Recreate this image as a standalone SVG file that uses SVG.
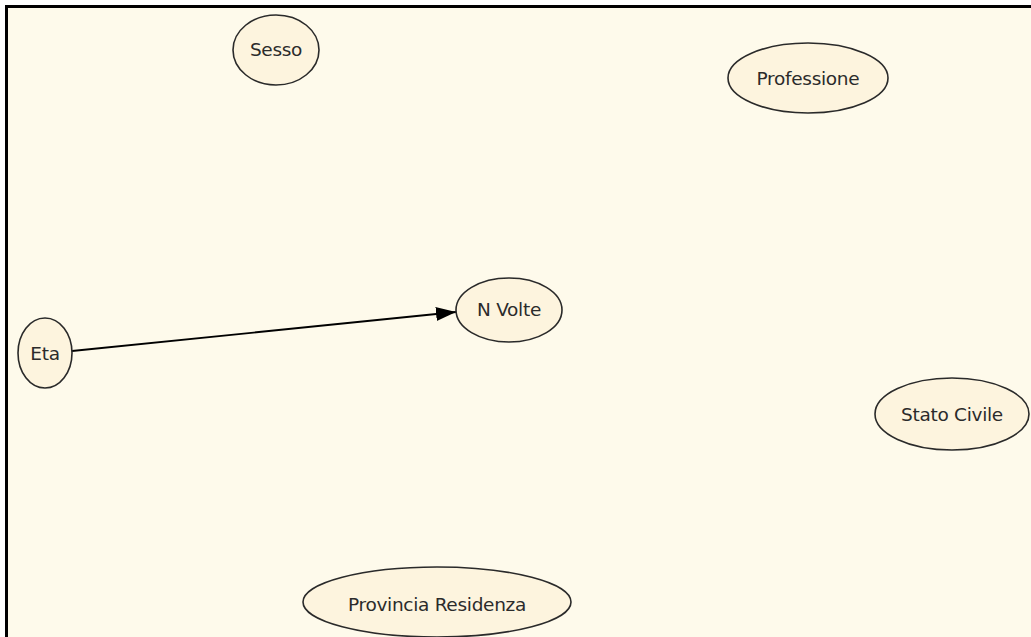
<svg xmlns="http://www.w3.org/2000/svg" width="1031" height="637" viewBox="0 0 1031 637">
  <defs>
    <style>
      .node ellipse { fill: #fdf4de; stroke: #2a2a2a; stroke-width: 1.6; }
      .node text { font-family: "DejaVu Sans", Verdana, sans-serif; font-size: 18.5px; fill: #2b2b2b; text-anchor: middle; dominant-baseline: central; letter-spacing: -0.3px; }
      .edge { stroke: #000; stroke-width: 1.8; fill: none; }
    </style>
    <marker id="arrowBig" viewBox="0 0 20 14" refX="20" refY="7" markerWidth="20" markerHeight="14" markerUnits="userSpaceOnUse" orient="auto">
      <path d="M0,0 L20,7 L0,14 z" fill="#000"/>
    </marker>
  </defs>
  <rect x="0" y="0" width="1031" height="637" fill="#ffffff"/>
  <rect x="7" y="7" width="1024" height="630" fill="#fefaeb"/>
  <path d="M6.5,637 V6.5 H1031" stroke="#000" stroke-width="3" fill="none"/>

  <g id="connectors">
    <line class="edge" x1="72" y1="351" x2="456" y2="312" marker-end="url(#arrowBig)"/>
  </g>

  <g id="node-sesso" class="node">
    <ellipse cx="276" cy="50" rx="43" ry="35"/>
    <text x="276" y="49">Sesso</text>
  </g>
  <g id="node-professione" class="node">
    <ellipse cx="808" cy="78" rx="80" ry="35"/>
    <text x="808" y="78">Professione</text>
  </g>
  <g id="node-nvolte" class="node">
    <ellipse cx="509" cy="310" rx="53" ry="32"/>
    <text x="509" y="309">N Volte</text>
  </g>
  <g id="node-eta" class="node">
    <ellipse cx="45" cy="353" rx="27" ry="35"/>
    <text x="45" y="353">Eta</text>
  </g>
  <g id="node-statocivile" class="node">
    <ellipse cx="952" cy="414" rx="77" ry="36"/>
    <text x="952" y="414">Stato Civile</text>
  </g>
  <g id="node-provincia" class="node">
    <ellipse cx="437" cy="602" rx="134" ry="35"/>
    <text x="437" y="604">Provincia Residenza</text>
  </g>
</svg>
